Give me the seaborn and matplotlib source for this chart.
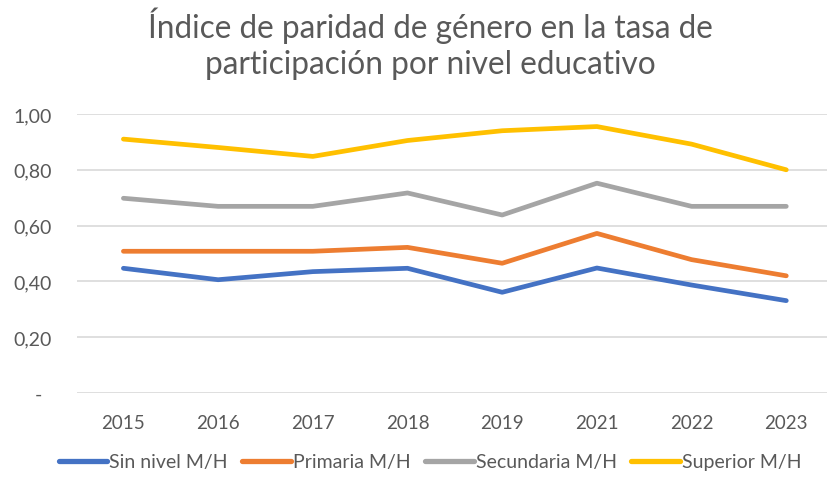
import pandas as pd
import numpy as np
import matplotlib.pyplot as plt
import seaborn as sns

# Data
years = ["2015", "2016", "2017", "2018", "2019", "2021", "2022", "2023"]
sin_nivel = [0.447, 0.406, 0.435, 0.447, 0.361, 0.448, 0.387, 0.331]
primaria = [0.508, 0.508, 0.508, 0.522, 0.465, 0.572, 0.478, 0.420]
secundaria = [0.698, 0.669, 0.669, 0.717, 0.638, 0.752, 0.669, 0.669]
superior = [0.910, 0.880, 0.848, 0.905, 0.940, 0.955, 0.892, 0.800]
series_names = ["Sin nivel M/H", "Primaria M/H", "Secundaria M/H", "Superior M/H"]
colors = ["#4472C4", "#ED7D31", "#A5A5A5", "#FFC000"]

rows = []
for name, vals in zip(series_names, [sin_nivel, primaria, secundaria, superior]):
    for i, v in enumerate(vals):
        rows.append({"pos": i, "year": years[i], "serie": name, "valor": v})
df = pd.DataFrame(rows)

sns.set_theme(style="white")
plt.rcParams["font.family"] = ["Lato", "DejaVu Sans"]
text_color = "#595959"

fig = plt.figure(figsize=(8.27, 4.81), dpi=100)
ax = fig.add_axes([77 / 827, 1 - 394 / 481, 1 - 77 / 827, (394 - 115) / 481])

sns.lineplot(data=df, x="pos", y="valor", hue="serie", palette=colors,
             linewidth=3.4, ax=ax, legend=False, sort=False)

ax.set_ylim(0, 1.0)
ax.set_xlim(-0.49, 7.43)
yticks = [0, 0.2, 0.4, 0.6, 0.8, 1.0]
ax.set_yticks(yticks)
# Excel accounting format: zero shown as a dash
ax.set_yticklabels(["-  "] + [f"{t:.2f}".replace(".", ",") for t in yticks[1:]])
ax.set_xticks(range(len(years)))
ax.set_xticklabels(years)
ax.tick_params(axis="y", length=0, pad=18, labelsize=14, labelcolor=text_color)
ax.tick_params(axis="x", length=0, pad=15, labelsize=13.5, labelcolor=text_color)
ax.set_xlabel("")
ax.set_ylabel("")
ax.grid(axis="y", color="#D9D9D9", linewidth=1.2)
for s in ax.spines.values():
    s.set_visible(False)

fig.text(430 / 827, 1 - 44 / 481, "Índice de paridad de género en la tasa de\nparticipación por nivel educativo",
         ha="center", va="center", fontsize=22.7, color=text_color, linespacing=1.27)

handles = [plt.Line2D([], [], color=c, linewidth=3.8) for c in colors]
fig.legend(handles, series_names, loc="center", bbox_to_anchor=(430 / 827, 1 - 463 / 481),
           ncol=4, frameon=False, fontsize=14, labelcolor=text_color,
           handlelength=2.5, handletextpad=0.1, columnspacing=0.75)

plt.savefig("out.png", dpi=100)
